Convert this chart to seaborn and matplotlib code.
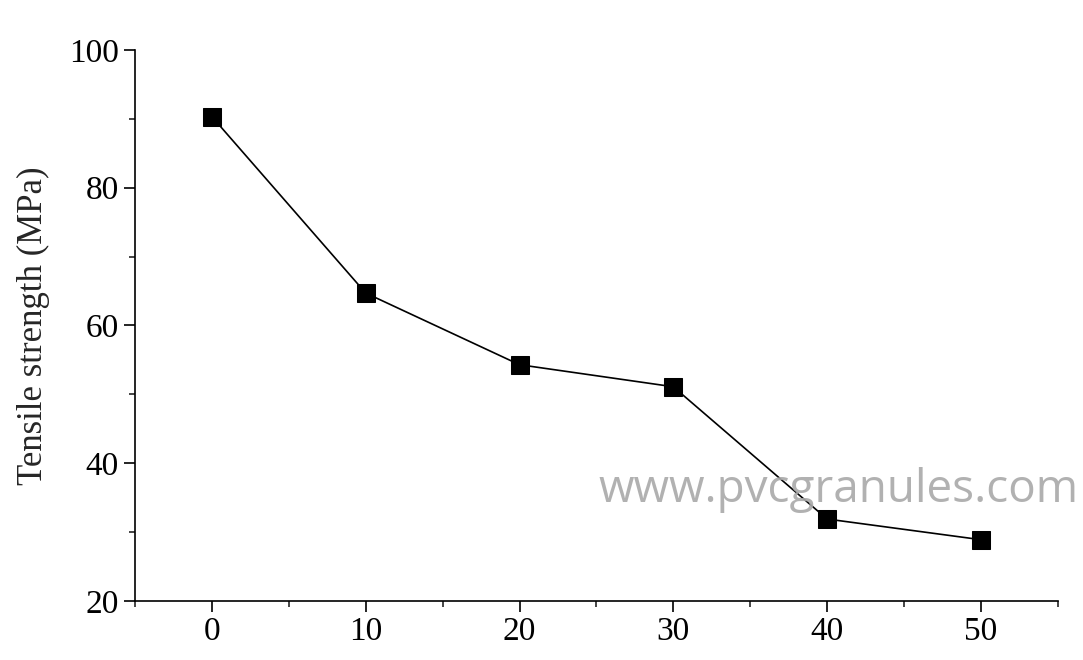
import matplotlib
matplotlib.use('Agg')
import matplotlib.pyplot as plt
import seaborn as sns
import pandas as pd
from matplotlib.ticker import MultipleLocator

# data
content = [0, 10, 20, 30, 40, 50]
strength = [90.3, 64.7, 54.3, 51.1, 31.9, 28.9]
df = pd.DataFrame({'content': content, 'strength': strength})

sns.set_style('ticks')
plt.rcParams['font.family'] = ['Liberation Serif', 'DejaVu Serif']

fig = plt.figure(figsize=(10.83, 6.6), dpi=100)
ax = fig.add_axes([0.1247, 0.0894, 0.852, 0.835])

sns.lineplot(data=df, x='content', y='strength', ax=ax, color='black', linewidth=1.2,
             marker='s', markersize=13, markeredgecolor='black', markerfacecolor='black')

ax.set_xlim(-5, 55)
ax.set_ylim(20, 100)
ax.xaxis.set_major_locator(MultipleLocator(10))
ax.xaxis.set_minor_locator(MultipleLocator(5))
ax.yaxis.set_major_locator(MultipleLocator(20))
ax.yaxis.set_minor_locator(MultipleLocator(10))
ax.tick_params(which='major', direction='out', length=8, width=1.2, labelsize=24, colors='black')
ax.tick_params(which='minor', direction='out', length=4, width=1.2)
for s in ['left', 'bottom']:
    ax.spines[s].set_linewidth(1.2)
    ax.spines[s].set_color('black')
sns.despine(ax=ax)
ax.set_xlabel('')
ax.set_ylabel('Tensile strength (MPa)', fontsize=25, labelpad=14)

# watermark
fig.text(0.553, 0.24, 'www.pvcgranules.com', fontsize=33, color='#a9a9a9',
         family=['Open Sans', 'DejaVu Sans'], alpha=0.9)

fig.savefig('out.png', dpi=100)
